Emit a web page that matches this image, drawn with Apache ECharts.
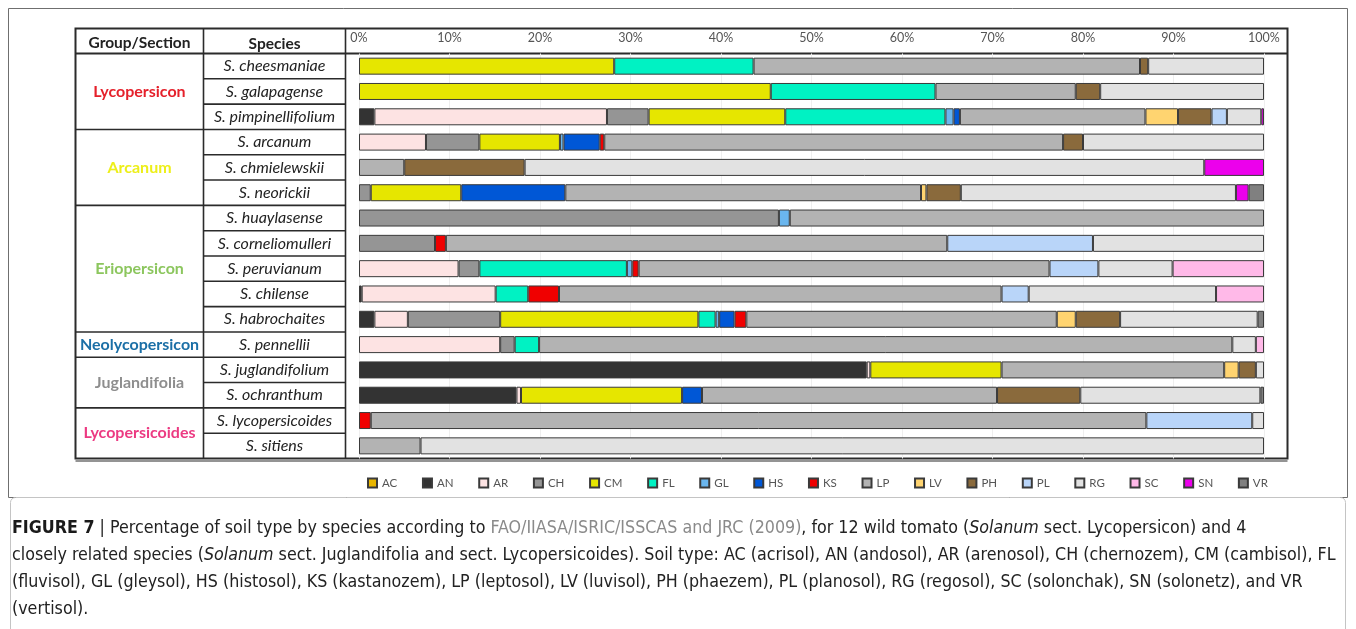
<!DOCTYPE html>
<html>
<head>
<meta charset="utf-8">
<title>Soil type by species</title>
<script src="https://cdn.jsdelivr.net/npm/echarts@6/dist/echarts.min.js"></script>
<style>
  html, body { margin: 0; padding: 0; background: #fff; }
  #chart { width: 1356px; height: 629px; }
</style>
</head>
<body>
<div id="chart"></div>
<script>
// Species, grouped by section (top to bottom)
const species = [
  'S. cheesmaniae', 'S. galapagense', 'S. pimpinellifolium',
  'S. arcanum', 'S. chmielewskii', 'S. neorickii',
  'S. huaylasense', 'S. corneliomulleri', 'S. peruvianum', 'S. chilense', 'S. habrochaites',
  'S. pennellii',
  'S. juglandifolium', 'S. ochranthum',
  'S. lycopersicoides', 'S. sitiens'
];
const groups = ['Lycopersicon', 'Arcanum', 'Eriopersicon', 'Neolycopersicon', 'Juglandifolia', 'Lycopersicoides'];
const groupSizes = [3, 3, 5, 1, 2, 2];
const groupColors = ['#E5212B', '#EDEF1A', '#8CC65E', '#1B6FA6', '#8E8E8E', '#EC3A82'];

// Soil types (legend order) and their colours
const soilCodes = ['AC', 'AN', 'AR', 'CH', 'CM', 'FL', 'GL', 'HS', 'KS', 'LP', 'LV', 'PH', 'PL', 'RG', 'SC', 'SN', 'VR'];
const soilColors = ['#E9B600', '#333333', '#FDE3E3', '#959595', '#E6E600', '#00F2C3', '#6AB6EE', '#0057D6', '#F00000',
                    '#B3B3B3', '#FFD470', '#8A6A3C', '#B9D5F9', '#E2E2E2', '#FFB9E8', '#EC00EC', '#808080'];

// Percentage of each soil type per species (same order as species)
const AC = [0, 0, 0, 0, 0, 0, 0, 0, 0, 0, 0, 0, 0, 0, 0, 0];
const AN = [0, 0, 1.7, 0, 0, 0, 0, 0, 0, 0.3, 1.7, 0, 56.1, 17.4, 0, 0];
const AR = [0, 0, 25.7, 7.4, 0, 0, 0, 0, 11.0, 14.8, 3.7, 15.6, 0.4, 0.5, 0, 0];
const CH = [0, 0, 4.6, 5.9, 0, 1.3, 46.4, 8.4, 2.3, 0, 10.2, 1.6, 0, 0, 0, 0];
const CM = [28.2, 45.5, 15.1, 8.9, 0, 10.0, 0, 0, 0, 0, 21.9, 0, 14.5, 17.8, 0, 0];
const FL = [15.4, 18.2, 17.7, 0, 0, 0, 0, 0, 16.3, 3.6, 1.9, 2.7, 0, 0, 0, 0];
const GL = [0, 0, 0.9, 0.4, 0, 0, 1.2, 0, 0.6, 0, 0.4, 0, 0, 0, 0, 0];
const HS = [0, 0, 0.7, 4.0, 0, 11.5, 0, 0, 0, 0, 1.7, 0, 0, 2.2, 0, 0];
const KS = [0, 0, 0, 0.5, 0, 0, 0, 1.2, 0.7, 3.4, 1.3, 0, 0, 0, 1.3, 0];
const LP = [42.7, 15.5, 20.5, 50.7, 5.0, 39.3, 52.4, 55.4, 45.4, 48.9, 34.3, 76.6, 24.6, 32.6, 85.7, 6.8];
const LV = [0, 0, 3.6, 0, 0, 0.6, 0, 0, 0, 0, 2.1, 0, 1.6, 0, 0, 0];
const PH = [0.9, 2.7, 3.7, 2.2, 13.3, 3.8, 0, 0, 0, 0, 4.9, 0, 1.9, 9.2, 0, 0];
const PL = [0, 0, 1.7, 0, 0, 0, 0, 16.1, 5.4, 3.0, 0, 0, 0, 0, 11.7, 0];
const RG = [12.8, 18.1, 3.8, 20.0, 75.1, 30.4, 0, 18.9, 8.2, 20.7, 15.2, 2.6, 0.9, 19.9, 1.3, 93.2];
const SC = [0, 0, 0, 0, 0, 0, 0, 0, 10.1, 5.3, 0, 0.9, 0, 0, 0, 0];
const SN = [0, 0, 0.3, 0, 6.6, 1.4, 0, 0, 0, 0, 0, 0, 0, 0, 0, 0];
const VR = [0, 0, 0, 0, 0, 1.7, 0, 0, 0, 0, 0.7, 0, 0, 0.4, 0, 0];
const soilValues = [AC, AN, AR, CH, CM, FL, GL, HS, KS, LP, LV, PH, PL, RG, SC, SN, VR];

// Table layout
const T = { left: 75.5, right: 1287.5, top: 28.5, bottom: 458.5, header: 53.5, col1: 203.5, col2: 345.5 };
const plot = { left: 359, right: 1264 };
const rowH = (T.bottom - T.header) / species.length;
const uiFont = 'Lato, "Open Sans", sans-serif';

const chart = echarts.init(document.getElementById('chart'));

const series = soilCodes.map((code, i) => ({
  name: code,
  type: 'bar',
  stack: 'soil',
  barWidth: 17,
  itemStyle: { color: soilColors[i], borderColor: '#3a3a3a', borderWidth: 1 },
  emphasis: { disabled: true },
  data: soilValues[i].map(v => (v > 0 ? v : '-'))
}));

// Table frame, cell rules and section names
const graphics = [];
const hline = (x1, x2, y, w) => graphics.push({ type: 'line', shape: { x1, y1: y, x2, y2: y }, style: { stroke: '#2b2b2b', lineWidth: w || 1.6 }, silent: true });
const vline = (x, y1, y2, w) => graphics.push({ type: 'line', shape: { x1: x, y1, x2: x, y2 }, style: { stroke: '#2b2b2b', lineWidth: w || 1.6 }, silent: true });

// figure frame and caption box
graphics.push({ type: 'rect', shape: { x: 8.5, y: 8.5, width: 1339, height: 489 }, style: { fill: 'none', stroke: '#6f6f6f', lineWidth: 1 }, silent: true });
graphics.push({ type: 'rect', shape: { x: 10.5, y: 497.5, width: 1335, height: 160, r: 5 }, style: { fill: 'none', stroke: '#c4c4c4', lineWidth: 1 }, silent: true });

graphics.push({ type: 'rect', shape: { x: T.left, y: T.top, width: T.right - T.left, height: T.bottom - T.top }, style: { fill: 'none', stroke: '#2b2b2b', lineWidth: 2 }, silent: true });
hline(T.left, T.right, T.header, 2);
hline(T.left, T.right, T.bottom + 2.5, 1.2);
vline(T.col1, T.top, T.bottom);
vline(T.col2, T.top, T.bottom);
for (let i = 1; i < species.length; i++) hline(T.col1, T.col2, T.header + i * rowH);
let acc = 0;
groups.forEach((g, gi) => {
  const y0 = T.header + acc * rowH;
  acc += groupSizes[gi];
  const y1 = T.header + acc * rowH;
  if (acc < species.length) hline(T.left, T.col1, y1);
  graphics.push({
    type: 'text', silent: true,
    style: {
      x: (T.left + T.col1) / 2, y: (y0 + y1) / 2, text: g,
      fill: groupColors[gi], font: 'bold 16px ' + uiFont,
      align: 'center', verticalAlign: 'middle'
    }
  });
});
graphics.push({ type: 'text', silent: true, style: { x: (T.left + T.col1) / 2, y: 42.5, text: 'Group/Section', fill: '#222', font: 'bold 15.5px ' + uiFont, align: 'center', verticalAlign: 'middle' } });
graphics.push({ type: 'text', silent: true, style: { x: (T.col1 + T.col2) / 2, y: 43.5, text: 'Species', fill: '#222', font: 'bold 15.5px ' + uiFont, align: 'center', verticalAlign: 'middle' } });

// Caption
const capFont = '"DejaVu Sans Condensed", "Liberation Sans", sans-serif';
const capSize = 17.7;
graphics.push({
  type: 'text', silent: true,
  style: {
    x: 12, y: 515,
    text:
      '{b|FIGURE 7}{n| | Percentage of soil type by species according to }{l|FAO/IIASA/ISRIC/ISSCAS and JRC (2009)}{n|, for 12 wild tomato (}{i|Solanum}{n| sect. Lycopersicon) and 4}\n' +
      '{n|closely related species (}{i|Solanum}{n| sect. Juglandifolia and sect. Lycopersicoides). Soil type: AC (acrisol), AN (andosol), AR (arenosol), CH (chernozem), CM (cambisol), FL}\n' +
      '{n|(fluvisol), GL (gleysol), HS (histosol), KS (kastanozem), LP (leptosol), LV (luvisol), PH (phaezem), PL (planosol), RG (regosol), SC (solonchak), SN (solonetz), and VR}\n' +
      '{n|(vertisol).}',
    verticalAlign: 'top',
    rich: {
      b: { fontFamily: capFont, fontSize: capSize, fontWeight: 'bold', fill: '#1a1a1a', lineHeight: 27 },
      n: { fontFamily: capFont, fontSize: capSize, fill: '#222', lineHeight: 27 },
      l: { fontFamily: capFont, fontSize: capSize, fill: '#8a8a8a', lineHeight: 27 },
      i: { fontFamily: capFont, fontSize: capSize, fontStyle: 'italic', fill: '#222', lineHeight: 27 }
    }
  }
});

chart.setOption({
  animation: false,
  backgroundColor: '#ffffff',
  color: soilColors,
  grid: { left: plot.left, right: 1356 - plot.right, top: T.header, bottom: 629 - T.bottom, containLabel: false },
  xAxis: {
    type: 'value', position: 'top', min: 0, max: 100, interval: 10,
    axisLine: { show: false }, axisTick: { show: false },
    axisLabel: { formatter: '{value}%', margin: 9, color: '#555', fontSize: 12.5, fontFamily: uiFont },
    splitLine: { show: true, lineStyle: { color: '#efefef', width: 1 } }
  },
  yAxis: {
    type: 'category', inverse: true, data: species,
    axisLine: { show: false }, axisTick: { show: false },
    axisLabel: { margin: plot.left - (T.col1 + T.col2) / 2, align: 'center', fontStyle: 'italic', fontSize: 16, color: '#222', fontFamily: uiFont }
  },
  legend: {
    data: soilCodes, left: 362, top: 472, orient: 'horizontal',
    icon: 'rect', itemWidth: 9, itemHeight: 9, itemGap: 24.7,
    selectedMode: false,
    textStyle: { color: '#555', fontSize: 11.5, fontFamily: uiFont }
  },
  series: series,
  graphic: graphics
});
</script>
</body>
</html>
